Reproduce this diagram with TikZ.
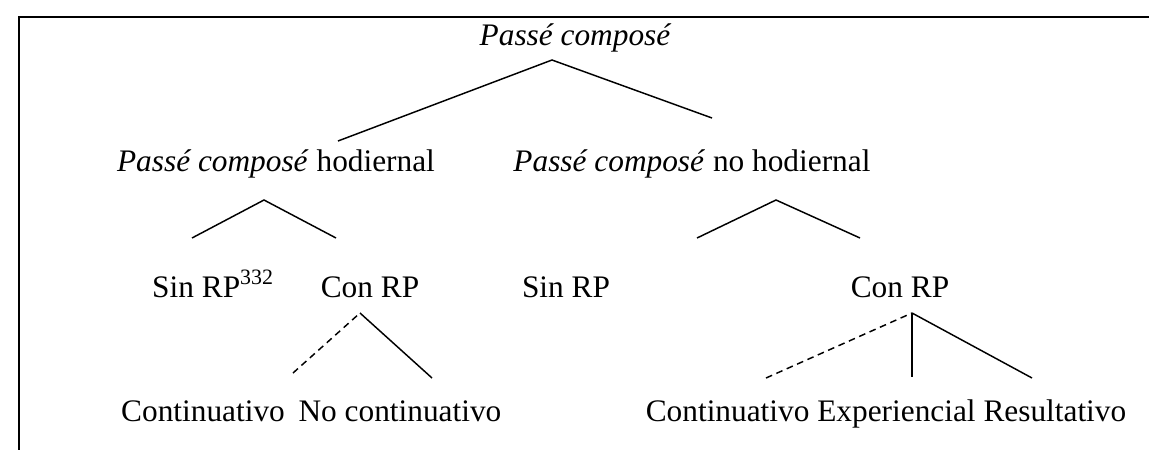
\documentclass[tikz,border=0pt]{standalone}
\usepackage{fontspec}
\setmainfont{Liberation Serif}
\tikzset{
  lbl/.style={anchor=base, inner sep=0pt, outer sep=0pt, font=\fontsize{23.5}{28}\selectfont},
  branch/.style={line width=1.1pt},
  hedge/.style={line width=1.1pt, dash pattern=on 5pt off 3.5pt},
  frame/.style={line width=2pt},
}
\begin{document}
\begin{tikzpicture}[x=0.75pt,y=-0.75pt]
\useasboundingbox (0,0) rectangle (1149,450);
% frame: top and left rules
\coordinate (ftl) at (19,17);
\coordinate (ftr) at (1149,17);
\coordinate (fbl) at (19,450);
\draw[frame] (ftr) -- (ftl) -- (fbl);

% labels (x = centre, y = baseline)
\node[lbl] (pc)     at (575,45)  {\itshape Passé composé};
\node[lbl] (hod)    at (276,171) {\textit{Passé composé} hodiernal};
\node[lbl] (nohod)  at (692,171) {\textit{Passé composé} no hodiernal};
\node[lbl] (sin1)   at (213,297) {Sin RP\textsuperscript{332}};
\node[lbl] (con1)   at (370,297) {Con RP};
\node[lbl] (sin2)   at (566,297) {Sin RP};
\node[lbl] (con2)   at (900,297) {Con RP};
\node[lbl] (cont1)  at (203,421) {Continuativo};
\node[lbl] (nocont) at (400,421) {No continuativo};
\node[lbl] (rest)   at (886,421) {Continuativo Experiencial Resultativo};

% branch points
\coordinate (a0) at (552,60);
\coordinate (a0l) at (338,141);
\coordinate (a0r) at (712,118);
\coordinate (a1) at (264,200);
\coordinate (a1l) at (192,238);
\coordinate (a1r) at (336,238);
\coordinate (a2) at (776,200);
\coordinate (a2l) at (697,238);
\coordinate (a2r) at (860,238);
\coordinate (a3) at (360,313);
\coordinate (a3l) at (293,373);
\coordinate (a3r) at (432,378);
\coordinate (a4) at (912,313);
\coordinate (a4l) at (766,378);
\coordinate (a4m) at (912,377);
\coordinate (a4r) at (1032,378);

\draw[branch] (a0l) -- (a0) -- (a0r);
\draw[branch] (a1l) -- (a1) -- (a1r);
\draw[branch] (a2l) -- (a2) -- (a2r);
\draw[hedge] (a3l) -- (a3);
\draw[branch] (a3) -- (a3r);
\draw[hedge] (a4l) -- (a4);
\draw[branch] (a4) -- (a4m);
\draw[branch] (a4) -- (a4r);
\end{tikzpicture}
\end{document}
